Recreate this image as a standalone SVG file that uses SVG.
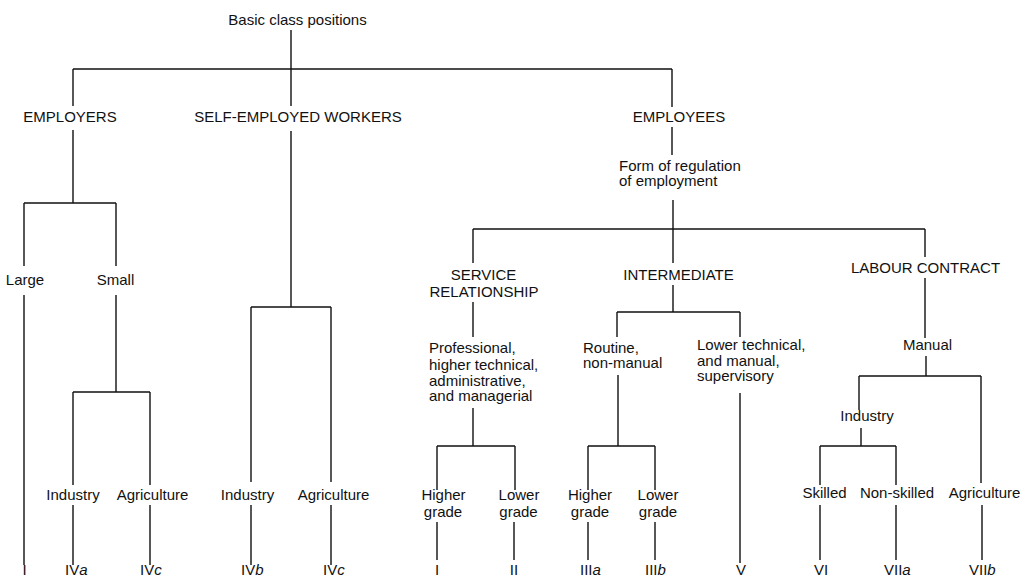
<svg xmlns="http://www.w3.org/2000/svg" width="1021" height="577" viewBox="0 0 1021 577">
<style>
text{font-family:"Liberation Sans",Arial,sans-serif;font-size:15px;fill:#111}
.m{text-anchor:middle}
.c{fill:none;stroke:#111;stroke-width:1.4}
</style>
<rect width="1021" height="577" fill="#fff"/>
<g id="connectors" class="c">
<path d="M291 30V69M73 69H672M73 69V106M291 69V106M672 69V107"/>
<path d="M73 130V203M24 203H116M24 203V266M116 203V266M24 295V565M116 295V392M73 392H150M73 392V485M150 392V485M73 505V565M150 505V565"/>
<path d="M291 131V307M251 307H331M251 307V482M331 307V482M251 505V565M331 505V565"/>
<path d="M672 127V155M673 200V229M473 229H925M473 229V263M673 229V263M925 229V257"/>
<path d="M473 302V337M473 408V446M437 446H515M437 446V490M515 446V490M437 522V560M514 522V560"/>
<path d="M673 285V312M617 312H740M617 312V337M740 312V337M618 375V446M588 446H655M588 446V490M655 446V490M588 522V560M655 522V560M740 393V563"/>
<path d="M925 278V338M926 356V376M859 376H981M859 376V410M981 376V483M861 428V446M820 446H896M820 446V485M896 446V485M820 505V560M896 505V560M982 505V560"/>
</g>
<g id="root"><text class="m" x="297.5" y="25">Basic class positions</text></g>
<g id="employers"><text class="m" x="70" y="122">EMPLOYERS</text></g>
<g id="self-employed"><text class="m" x="298" y="122">SELF-EMPLOYED WORKERS</text></g>
<g id="employees"><text class="m" x="679" y="122">EMPLOYEES</text></g>
<g id="form-regulation"><text x="619" y="171">Form of regulation</text><text x="619" y="186">of employment</text></g>
<g id="large"><text class="m" x="25" y="285">Large</text></g>
<g id="small"><text class="m" x="115.5" y="285">Small</text></g>
<g id="emp-industry"><text class="m" x="73" y="500">Industry</text></g>
<g id="emp-agriculture"><text class="m" x="152.5" y="500">Agriculture</text></g>
<g id="self-industry"><text class="m" x="247.5" y="500">Industry</text></g>
<g id="self-agriculture"><text class="m" x="333.5" y="500">Agriculture</text></g>
<g id="service"><text class="m" x="483.5" y="280">SERVICE</text><text class="m" x="484" y="297">RELATIONSHIP</text></g>
<g id="intermediate"><text class="m" x="678.5" y="280">INTERMEDIATE</text></g>
<g id="labour"><text class="m" x="925.5" y="273">LABOUR CONTRACT</text></g>
<g id="professional"><text x="429" y="353">Professional,</text><text x="429" y="370">higher technical,</text><text x="429" y="386">administrative,</text><text x="429" y="401">and managerial</text></g>
<g id="routine"><text x="583" y="353">Routine,</text><text x="583" y="368">non-manual</text></g>
<g id="lower-technical"><text x="697" y="350">Lower technical,</text><text x="697" y="366">and manual,</text><text x="697" y="381">supervisory</text></g>
<g id="manual"><text class="m" x="927.5" y="350">Manual</text></g>
<g id="lab-industry"><text class="m" x="867" y="421">Industry</text></g>
<g id="svc-higher"><text class="m" x="443.5" y="500">Higher</text><text class="m" x="443" y="517">grade</text></g>
<g id="svc-lower"><text class="m" x="519" y="500">Lower</text><text class="m" x="518.5" y="517">grade</text></g>
<g id="int-higher"><text class="m" x="590" y="500">Higher</text><text class="m" x="590" y="517">grade</text></g>
<g id="int-lower"><text class="m" x="658" y="500">Lower</text><text class="m" x="658" y="517">grade</text></g>
<g id="skilled"><text class="m" x="824.5" y="498">Skilled</text></g>
<g id="non-skilled"><text class="m" x="897" y="498">Non-skilled</text></g>
<g id="lab-agriculture"><text class="m" x="984.5" y="498">Agriculture</text></g>
<g id="classes">
<text class="m" x="24.5" y="575">I</text>
<text x="65" y="575">IV<tspan font-style="italic">a</tspan></text>
<text x="140" y="575">IV<tspan font-style="italic">c</tspan></text>
<text x="241" y="575">IV<tspan font-style="italic">b</tspan></text>
<text x="323" y="575">IV<tspan font-style="italic">c</tspan></text>
<text class="m" x="437" y="575">I</text>
<text class="m" x="514" y="575">II</text>
<text x="580" y="575">III<tspan font-style="italic">a</tspan></text>
<text x="645" y="575">III<tspan font-style="italic">b</tspan></text>
<text class="m" x="741" y="575">V</text>
<text class="m" x="821" y="575">VI</text>
<text x="884" y="575">VII<tspan font-style="italic">a</tspan></text>
<text x="969" y="575">VII<tspan font-style="italic">b</tspan></text>
</g>
</svg>
